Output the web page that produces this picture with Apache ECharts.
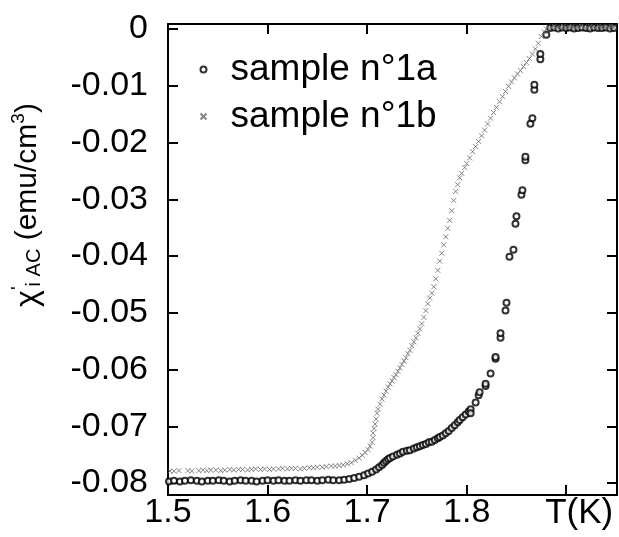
<!DOCTYPE html>
<html>
<head>
<meta charset="utf-8">
<script src="https://cdn.jsdelivr.net/npm/echarts@6/dist/echarts.min.js"></script>
<style>
html,body{margin:0;padding:0;background:#fff;}
#chart{width:619px;height:537px;}
</style>
</head>
<body>
<div id="chart"></div>
<script>
// ---- data (T in K, chi' in emu/cm^3) ----
var seriesNames = ['sample n°1a', 'sample n°1b'];
var xTickValues = [1.5, 1.6, 1.7, 1.8, 1.9];
var xTickLabels = ['1.5', '1.6', '1.7', '1.8', 'T(K)'];
var yTickValues = [0, -0.01, -0.02, -0.03, -0.04, -0.05, -0.06, -0.07, -0.08];
var yTickLabels = ['0', '-0.01', '-0.02', '-0.03', '-0.04', '-0.05', '-0.06', '-0.07', '-0.08'];

var sample1a = [
 [1.501,-0.0797],[1.506,-0.0796],[1.512,-0.0797],[1.517,-0.0796],[1.523,-0.0795],[1.529,-0.0796],
 [1.534,-0.0797],[1.540,-0.0796],[1.545,-0.0796],[1.551,-0.0795],[1.556,-0.0796],[1.562,-0.0797],
 [1.567,-0.0796],[1.573,-0.0795],[1.578,-0.0796],[1.584,-0.0796],[1.589,-0.0797],[1.595,-0.0796],
 [1.600,-0.0795],[1.606,-0.0796],[1.611,-0.0795],[1.617,-0.0796],[1.622,-0.0796],[1.628,-0.0795],
 [1.633,-0.0796],[1.639,-0.0795],[1.644,-0.0795],[1.650,-0.0796],[1.655,-0.0795],[1.661,-0.0794],
 [1.666,-0.0795],[1.672,-0.0795],[1.677,-0.0794],
 [1.682,-0.0793],[1.687,-0.0791],[1.692,-0.0789],[1.697,-0.0786],[1.701,-0.0783],[1.705,-0.0780],
 [1.709,-0.0776],[1.712,-0.0772],[1.715,-0.0768],[1.717,-0.0764],[1.719,-0.0761],[1.721,-0.0758],
 [1.723,-0.0756],[1.726,-0.0753],[1.730,-0.0750],[1.733,-0.0748],[1.736,-0.0745],[1.740,-0.0743],
 [1.743,-0.0742],[1.747,-0.0739],[1.750,-0.0737],[1.753,-0.0735],[1.756,-0.0733],[1.759,-0.0731],
 [1.762,-0.0728],[1.765,-0.0727],[1.768,-0.0724],[1.771,-0.0721],[1.773,-0.0719],[1.776,-0.0716],
 [1.779,-0.0712],[1.782,-0.0708],[1.785,-0.0703],[1.788,-0.0698],[1.791,-0.0693],[1.793,-0.0689],
 [1.796,-0.0684],[1.799,-0.0679],[1.802,-0.0674],[1.804,-0.0670],[1.804,-0.0677],[1.809,-0.0658],
 [1.812,-0.0645],[1.813,-0.0640],[1.819,-0.0629],[1.819,-0.0625],[1.824,-0.0607],[1.829,-0.0581],
 [1.829,-0.0578],[1.834,-0.0544],[1.834,-0.0536],[1.839,-0.0496],[1.840,-0.0482],[1.843,-0.0401],
 [1.847,-0.0389],[1.849,-0.0343],[1.850,-0.0330],[1.855,-0.0292],[1.856,-0.0284],[1.859,-0.0231],
 [1.859,-0.0225],[1.864,-0.0167],[1.866,-0.0157],[1.868,-0.0107],[1.868,-0.0098],[1.874,-0.0053],
 [1.874,-0.0044],[1.880,-0.0010],
 [1.884,0.0002],[1.888,0.0003],[1.892,0.0001],[1.896,0.0003],[1.900,0.0002],[1.904,0.0003],
 [1.908,0.0001],[1.912,0.0002],[1.916,0.0003],[1.920,0.0002],[1.924,0.0001],[1.928,0.0003],
 [1.932,0.0002],[1.936,0.0002],[1.940,0.0003],[1.944,0.0001],[1.948,0.0002]
];

var sample1b = [
 [1.502,-0.0779],[1.506,-0.0779],[1.511,-0.0778],[1.520,-0.0778],[1.524,-0.0779],[1.531,-0.0778],
 [1.535,-0.0777],[1.539,-0.0778],[1.543,-0.0777],[1.548,-0.0777],[1.553,-0.0778],[1.557,-0.0777],
 [1.562,-0.0776],[1.566,-0.0777],[1.571,-0.0776],[1.575,-0.0776],[1.580,-0.0777],[1.584,-0.0776],
 [1.588,-0.0775],[1.593,-0.0776],[1.597,-0.0775],[1.602,-0.0776],[1.606,-0.0775],[1.611,-0.0775],
 [1.615,-0.0774],[1.620,-0.0775],[1.624,-0.0774],[1.628,-0.0774],[1.633,-0.0775],[1.637,-0.0774],
 [1.642,-0.0773],[1.646,-0.0773],[1.650,-0.0772],[1.655,-0.0772],[1.659,-0.0771],[1.664,-0.0770],
 [1.668,-0.0770],[1.672,-0.0769],[1.676,-0.0768],[1.680,-0.0766],
 [1.684,-0.0764],[1.688,-0.0760],[1.692,-0.0756],[1.695,-0.0751],[1.698,-0.0746],[1.701,-0.0741],
 [1.703,-0.0735],[1.705,-0.0728],[1.706,-0.0720],[1.706,-0.0712],[1.707,-0.0704],[1.708,-0.0696],
 [1.709,-0.0687],[1.710,-0.0677],[1.711,-0.0670],[1.713,-0.0661],[1.715,-0.0652],[1.717,-0.0645],
 [1.719,-0.0638],[1.721,-0.0631],[1.723,-0.0625],[1.725,-0.0620],[1.727,-0.0614],[1.729,-0.0609],
 [1.731,-0.0603],[1.733,-0.0597],[1.735,-0.0591],[1.737,-0.0585],[1.739,-0.0579],[1.741,-0.0572],
 [1.743,-0.0566],[1.745,-0.0558],[1.747,-0.0551],[1.749,-0.0544],[1.751,-0.0536],[1.753,-0.0528],
 [1.755,-0.0519],[1.757,-0.0508],[1.759,-0.0496],[1.761,-0.0484],[1.763,-0.0474],[1.765,-0.0465],
 [1.767,-0.0454],[1.769,-0.0440],[1.771,-0.0425],[1.773,-0.0409],[1.775,-0.0395],[1.777,-0.0380],
 [1.779,-0.0366],[1.781,-0.0351],[1.783,-0.0337],[1.785,-0.0320],[1.787,-0.0302],[1.789,-0.0286],
 [1.791,-0.0274],[1.793,-0.0262],[1.795,-0.0254],[1.798,-0.0244],[1.800,-0.0237],[1.803,-0.0227],
 [1.806,-0.0216],[1.809,-0.0207],[1.812,-0.0198],[1.815,-0.0188],[1.818,-0.0178],[1.821,-0.0167],
 [1.824,-0.0157],[1.827,-0.0147],[1.830,-0.0138],[1.833,-0.0128],[1.836,-0.0119],[1.839,-0.0110],
 [1.842,-0.0101],[1.845,-0.0093],[1.848,-0.0086],[1.851,-0.0079],[1.854,-0.0073],[1.857,-0.0066],
 [1.860,-0.0059],[1.863,-0.0052],[1.866,-0.0044],[1.869,-0.0035],[1.872,-0.0025],[1.875,-0.0013],
 [1.878,-0.0005],[1.880,0.0000],
 [1.882,0.0004],[1.885,0.0003],[1.888,0.0005],[1.891,0.0003],[1.894,0.0004],[1.897,0.0005],
 [1.900,0.0003],[1.903,0.0004],[1.906,0.0005],[1.909,0.0003],[1.912,0.0004],[1.915,0.0005],
 [1.918,0.0004],[1.921,0.0003],[1.924,0.0005],[1.927,0.0004],[1.930,0.0003],[1.933,0.0005],
 [1.936,0.0004],[1.939,0.0003],[1.942,0.0004],[1.945,0.0005],[1.948,0.0004]
];

// ---- chart ----
var FONT = '"Liberation Sans", Arial, Helvetica, sans-serif';
var X_MIN = 1.5, X_MAX = 1.951, Y_MIN = -0.0821, Y_MAX = 0.0009;
var lineStyle = { color: '#000', width: 2 };
var tickStyle = { color: '#000', width: 2 };

function xLabel(v) {
  for (var i = 0; i < xTickValues.length; i++) {
    if (Math.abs(v - xTickValues[i]) < 1e-6) return xTickLabels[i];
  }
  return '';
}
function yLabel(v) {
  for (var i = 0; i < yTickValues.length; i++) {
    if (Math.abs(v - yTickValues[i]) < 1e-7) return yTickLabels[i];
  }
  return '';
}

var chart = echarts.init(document.getElementById('chart'), null, { renderer: 'canvas' });
chart.setOption({
  animation: false,
  backgroundColor: '#fff',
  textStyle: { fontFamily: FONT },
  grid: { left: 168, right: 2, top: 24, bottom: 42, containLabel: false },
  legend: {
    orient: 'vertical',
    left: 193, top: 46,
    itemWidth: 44, itemHeight: 6, itemGap: 10,
    data: seriesNames,
    textStyle: { fontFamily: FONT, fontSize: 37, color: '#000' }
  },
  xAxis: [{
    type: 'value', position: 'bottom', min: X_MIN, max: X_MAX,
    axisLine: { show: true, onZero: false, lineStyle: lineStyle },
    axisTick: { show: true, inside: true, length: 10, lineStyle: tickStyle, customValues: [1.6, 1.7, 1.8, 1.9] },
    axisLabel: {
      show: true, customValues: xTickValues, margin: 1,
      fontFamily: FONT, fontSize: 34, color: '#000',
      formatter: function (v) {
        var s = xLabel(v);
        return s === 'T(K)' ? '{t|' + s + '}' : s;
      },
      rich: { t: { fontFamily: FONT, fontSize: 35, color: '#000', padding: [0, 0, 0, 26] } }
    },
    splitLine: { show: false }
  }, {
    type: 'value', position: 'top', min: X_MIN, max: X_MAX,
    axisLine: { show: true, onZero: false, lineStyle: lineStyle },
    axisTick: { show: true, inside: true, length: 10, lineStyle: tickStyle, customValues: [1.6, 1.7, 1.8, 1.9] },
    axisLabel: { show: false },
    splitLine: { show: false }
  }],
  yAxis: [{
    type: 'value', position: 'left', min: Y_MIN, max: Y_MAX,
    axisLine: { show: true, onZero: false, lineStyle: lineStyle },
    axisTick: { show: true, inside: true, length: 10, lineStyle: tickStyle, customValues: yTickValues },
    axisLabel: {
      show: true, customValues: yTickValues, margin: 20,
      fontFamily: FONT, fontSize: 34, color: '#000',
      padding: [0, 0, 10, 0],
      formatter: yLabel
    },
    splitLine: { show: false }
  }, {
    type: 'value', position: 'right', min: Y_MIN, max: Y_MAX,
    axisLine: { show: true, onZero: false, lineStyle: lineStyle },
    axisTick: { show: true, inside: true, length: 10, lineStyle: tickStyle, customValues: yTickValues },
    axisLabel: { show: false },
    splitLine: { show: false }
  }],
  graphic: [{
    type: 'text',
    x: 28, y: 205,
    rotation: Math.PI / 2,
    style: {
      text: '{c|χ}{s|\'}{b|i}{b| AC}{n| (emu/cm}{s|3}{n|)}',
      textAlign: 'center',
      textVerticalAlign: 'middle',
      fill: '#000',
      rich: {
        c: { fontFamily: FONT, fontSize: 32, fill: '#000' },
        n: { fontFamily: FONT, fontSize: 30, fill: '#000' },
        s: { fontFamily: FONT, fontSize: 19, fill: '#000', padding: [0, 0, 18, 0] },
        b: { fontFamily: FONT, fontSize: 20, fill: '#000', padding: [12, 0, 0, 0] }
      }
    }
  }],
  series: [{
    name: seriesNames[0],
    type: 'scatter',
    xAxisIndex: 0, yAxisIndex: 0,
    symbol: 'emptyCircle',
    symbolSize: 6,
    clip: false,
    itemStyle: { color: '#000', borderColor: '#000', borderWidth: 1.2 },
    data: sample1a
  }, {
    name: seriesNames[1],
    type: 'scatter',
    xAxisIndex: 0, yAxisIndex: 0,
    symbol: 'path://M0,0L10,10M10,0L0,10',
    symbolSize: 5,
    clip: false,
    itemStyle: { color: 'none', borderColor: '#666', borderWidth: 1 },
    data: sample1b
  }]
});
</script>
</body>
</html>
